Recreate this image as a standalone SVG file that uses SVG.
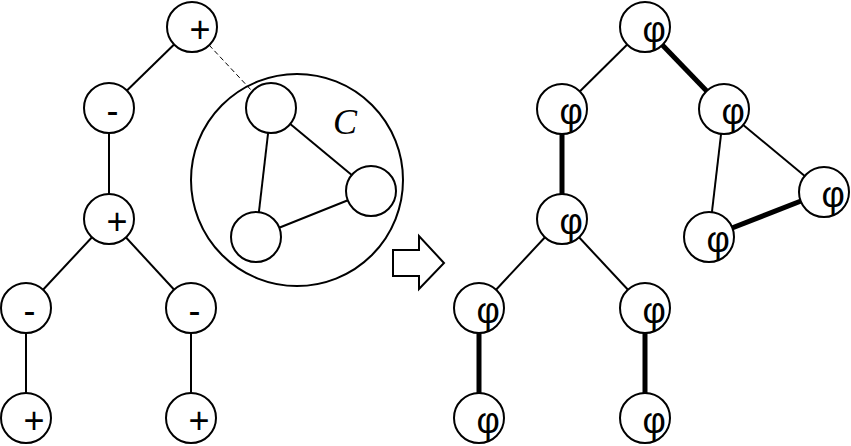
<svg xmlns="http://www.w3.org/2000/svg" width="851" height="446" viewBox="0 0 851 446">
<style>
.n{fill:#fff;stroke:#000;stroke-width:2}
.e{stroke:#000;stroke-width:2;fill:none}
.t{stroke:#000;stroke-width:5;fill:none}
.d{stroke:#000;stroke-width:1;stroke-dasharray:5,3;fill:none}
.l{font-family:"Liberation Sans",Arial,sans-serif;font-size:36px;fill:#000}
</style>
<rect width="851" height="446" fill="#fff"/>
<g id="cluster-C">
<circle cx="297" cy="180" r="106" class="n"/>
<text x="333" y="134" font-family="Liberation Serif,serif" font-style="italic" font-size="36">C</text>
</g>
<g id="connectors">
<line x1="192" y1="27" x2="109" y2="108" class="e"/>
<line x1="109" y1="108" x2="109" y2="219" class="e"/>
<line x1="109" y1="219" x2="26" y2="308" class="e"/>
<line x1="109" y1="219" x2="191" y2="308" class="e"/>
<line x1="26" y1="308" x2="26" y2="418" class="e"/>
<line x1="191" y1="308" x2="191" y2="418" class="e"/>
<line x1="209" y1="45" x2="252" y2="91" class="d"/>
<line x1="271" y1="108" x2="371" y2="191" class="e"/>
<line x1="271" y1="108" x2="256" y2="237" class="e"/>
<line x1="371" y1="191" x2="256" y2="237" class="e"/>
<line x1="645" y1="27" x2="562" y2="109" class="e"/>
<line x1="645" y1="27" x2="724" y2="109" class="t"/>
<line x1="562" y1="109" x2="562" y2="219" class="t"/>
<line x1="562" y1="219" x2="479" y2="308" class="e"/>
<line x1="562" y1="219" x2="645" y2="308" class="e"/>
<line x1="479" y1="308" x2="479" y2="418" class="t"/>
<line x1="645" y1="308" x2="645" y2="418" class="t"/>
<line x1="724" y1="109" x2="824" y2="192" class="e"/>
<line x1="724" y1="109" x2="709" y2="237" class="e"/>
<line x1="824" y1="192" x2="709" y2="237" class="t"/>
</g>
<g id="L-root"><circle cx="192" cy="27" r="25" class="n"/><text x="189.5" y="42" class="l">+</text></g>
<g id="L-m1"><circle cx="109" cy="108" r="25" class="n"/><text x="106.5" y="123" class="l">-</text></g>
<g id="L-p1"><circle cx="109" cy="219" r="25" class="n"/><text x="106.5" y="234" class="l">+</text></g>
<g id="L-m2"><circle cx="26" cy="308" r="25" class="n"/><text x="23.5" y="323" class="l">-</text></g>
<g id="L-m3"><circle cx="191" cy="308" r="25" class="n"/><text x="188.5" y="323" class="l">-</text></g>
<g id="L-p2"><circle cx="26" cy="418" r="25" class="n"/><text x="23.5" y="433" class="l">+</text></g>
<g id="L-p3"><circle cx="191" cy="418" r="25" class="n"/><text x="188.5" y="433" class="l">+</text></g>
<g id="C-a"><circle cx="271" cy="108" r="25" class="n"/></g>
<g id="C-b"><circle cx="371" cy="191" r="25" class="n"/></g>
<g id="C-c"><circle cx="256" cy="237" r="25" class="n"/></g>
<g id="arrow"><polygon points="393,250 419,250 419,236 444,263 419,289 419,276 393,276" fill="#fff" stroke="#000" stroke-width="2"/></g>
<g id="R-root"><circle cx="645" cy="27" r="25" class="n"/><text x="642.5" y="42" class="l">φ</text></g>
<g id="R-1"><circle cx="562" cy="109" r="25" class="n"/><text x="559.5" y="124" class="l">φ</text></g>
<g id="R-2"><circle cx="562" cy="219" r="25" class="n"/><text x="559.5" y="234" class="l">φ</text></g>
<g id="R-3"><circle cx="479" cy="308" r="25" class="n"/><text x="476.5" y="323" class="l">φ</text></g>
<g id="R-4"><circle cx="645" cy="308" r="25" class="n"/><text x="642.5" y="323" class="l">φ</text></g>
<g id="R-5"><circle cx="479" cy="418" r="25" class="n"/><text x="476.5" y="433" class="l">φ</text></g>
<g id="R-6"><circle cx="645" cy="418" r="25" class="n"/><text x="642.5" y="433" class="l">φ</text></g>
<g id="R-a"><circle cx="724" cy="109" r="25" class="n"/><text x="721.5" y="124" class="l">φ</text></g>
<g id="R-b"><circle cx="824" cy="192" r="25" class="n"/><text x="821.5" y="207" class="l">φ</text></g>
<g id="R-c"><circle cx="709" cy="237" r="25" class="n"/><text x="706.5" y="252" class="l">φ</text></g>
</svg>
